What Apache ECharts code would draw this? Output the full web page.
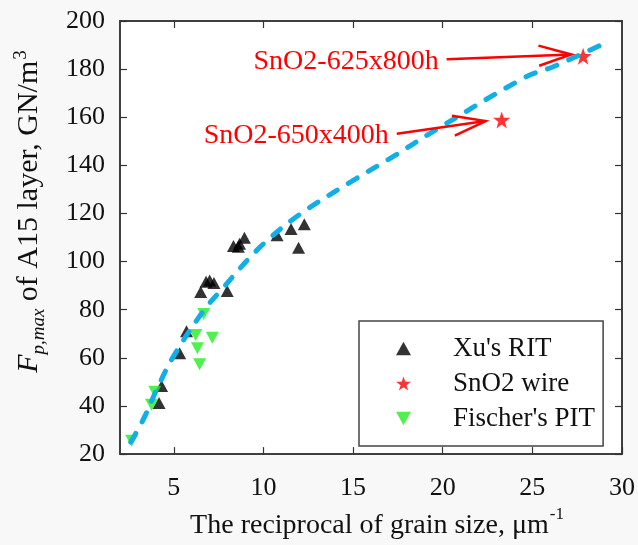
<!DOCTYPE html>
<html>
<head>
<meta charset="utf-8">
<script src="https://cdn.jsdelivr.net/npm/echarts@6/dist/echarts.min.js"></script>
<style>
html,body{margin:0;padding:0;background:#f8f8f8;}
#chart{width:638px;height:545px;}
</style>
</head>
<body>
<div id="chart"></div>
<script>
// ---- data ----
const xuRIT = [[4.18,41.2],[4.32,48.3],[5.33,61.9],[5.71,71.1],[6.50,87.4],[6.80,91.6],[7.00,92.2],[7.24,91.1],[7.98,87.8],[8.33,106.5],[8.60,106.2],[8.67,107.4],[8.94,109.9],[10.76,111.0],[11.54,113.6],[11.96,105.8],[12.28,115.5]];
const sno2Wire = [[23.29,158.9],[27.83,185.4]];
const fischerPIT = [[2.65,25.6],[3.76,40.5],[3.94,45.9],[6.22,69.5],[6.32,64.0],[6.44,57.3],[6.67,78.2],[7.15,68.4]];
const fitCurve = [[2.6,25.0],[3.3,34.4],[4.04,46.7],[4.96,60.3],[6.63,79.3],[7.56,87.5],[9.78,105.8],[12.0,119.5],[15.15,134.4],[17.0,142.6],[19.78,155.5],[24.6,176.6],[26.26,181.3],[29.1,191.0]];
// annotations: label, tail x, tail y, head x, head y
const annoLabels = ['SnO2-625x800h','SnO2-650x400h'];
const annoArrows = [[20.22,184.1,27.17,186.1],[17.44,153.1,22.39,158.4]];
const xTicks = [5,10,15,20,25,30];
const yTicks = [20,40,60,80,100,120,140,160,180,200];

const FONT = "'Liberation Serif','Times New Roman',serif";
const chart = echarts.init(document.getElementById('chart'));

const baseX = {type:'value', min:2, max:30,
  axisLine:{show:true,onZero:false,lineStyle:{color:'#333',width:1.5}},
  splitLine:{show:false}};
const baseY = {type:'value', min:20, max:200, interval:20,
  axisLine:{show:true,onZero:false,lineStyle:{color:'#333',width:1.5}},
  splitLine:{show:false}};

const option = {
  backgroundColor:'#f8f8f8',
  animation:false,
  grid:{left:120,right:14,top:21,bottom:83,show:true,backgroundColor:'#ffffff',borderColor:'#333',borderWidth:1.5},
  xAxis:[
    Object.assign({}, baseX, {position:'bottom',
      axisTick:{show:true,inside:true,length:7,lineStyle:{color:'#333',width:1.2},customValues:xTicks},
      axisLabel:{show:true,margin:21,fontFamily:FONT,fontSize:26,color:'#111',customValues:xTicks},
      name:'{n|The reciprocal of grain size, μm}{sup|-1}', nameLocation:'middle', nameGap:50,
      nameTextStyle:{fontFamily:FONT,color:'#111',padding:[0,0,0,12],rich:{
        n:{fontFamily:FONT,fontSize:28,color:'#111',lineHeight:34,verticalAlign:'bottom'},
        sup:{fontFamily:FONT,fontSize:17,color:'#111',lineHeight:34,verticalAlign:'top',padding:[0,0,0,1]}}}
    }),
    Object.assign({}, baseX, {position:'top',
      axisTick:{show:true,inside:true,length:7,lineStyle:{color:'#333',width:1.2},customValues:xTicks.slice(0,5)},
      axisLabel:{show:false}})
  ],
  yAxis:[
    Object.assign({}, baseY, {position:'left',
      axisTick:{show:true,inside:true,length:7,lineStyle:{color:'#333',width:1.2}},
      axisLabel:{show:true,margin:15,fontFamily:FONT,fontSize:26,color:'#111'},
      name:'{i|F}{sub|p,max}{n| of A15 layer, GN/m}{sup|3}', nameLocation:'middle', nameGap:72, nameRotate:90,
      nameTextStyle:{fontFamily:FONT,color:'#111',padding:[0,0,0,52],rich:{
        i:{fontFamily:FONT,fontStyle:'italic',fontSize:30,color:'#111',lineHeight:38,verticalAlign:'middle'},
        sub:{fontFamily:FONT,fontStyle:'italic',fontSize:19,color:'#111',lineHeight:38,verticalAlign:'bottom'},
        n:{fontFamily:FONT,fontSize:30,color:'#111',lineHeight:38,verticalAlign:'middle'},
        sup:{fontFamily:FONT,fontSize:19,color:'#111',lineHeight:38,verticalAlign:'top',padding:[2,0,0,1]}}}
    }),
    Object.assign({}, baseY, {position:'right',
      axisTick:{show:true,inside:true,length:7,lineStyle:{color:'#333',width:1.2}},
      axisLabel:{show:false}})
  ],
  legend:{
    orient:'vertical', left:359, top:321,
    padding:[14,8,14,37], itemGap:8, itemWidth:15, itemHeight:15,
    borderColor:'#444', borderWidth:1.5, backgroundColor:'#ffffff',
    textStyle:{fontFamily:FONT,fontSize:27,color:'#111',lineHeight:27,padding:[0,0,0,37]},
    data:["Xu's RIT",'SnO2 wire',"Fischer's PIT"]
  },
  series:[
    {name:"Xu's RIT",type:'scatter',data:xuRIT,symbol:'path://M5,0 L10,9 L0,9 Z',symbolSize:[13,12],
      itemStyle:{color:'#000000'},z:3},
    {name:"Fischer's PIT",type:'scatter',data:fischerPIT,symbol:'path://M0,0 L10,0 L5,9 Z',symbolSize:[13,12],
      itemStyle:{color:'#22ee22'},z:3},
    {name:'SnO2 wire',type:'scatter',data:sno2Wire,symbol:'path://M50,0 L61.8,35.1 L98.9,35.1 L68.9,57.2 L80.3,92.5 L50,70.8 L19.7,92.5 L31.1,57.2 L1.1,35.1 L38.2,35.1 Z',symbolSize:17,
      itemStyle:{color:'#ff0000'},z:3},
    {name:'fit',type:'line',data:fitCurve,smooth:0.35,showSymbol:false,symbol:'none',
      lineStyle:{color:'#12aee8',width:5,type:[10,13],cap:'round'},z:5,silent:true},
    {name:'anno',type:'custom',silent:true,z:6,
      data:annoArrows,
      renderItem:function(params,api){
        const i = params.dataIndex;
        const p1 = api.coord([api.value(0),api.value(1)]);
        const p2 = api.coord([api.value(2),api.value(3)]);
        const ang = Math.atan2(p2[1]-p1[1],p2[0]-p1[0]);
        const L = 34, a = 0.30;
        const h1 = [p2[0]-L*Math.cos(ang-a), p2[1]-L*Math.sin(ang-a)];
        const h2 = [p2[0]-L*Math.cos(ang+a), p2[1]-L*Math.sin(ang+a)];
        const st = {stroke:'#ff0000',lineWidth:2.5,fill:null};
        return {type:'group',children:[
          {type:'line',shape:{x1:p1[0],y1:p1[1],x2:p2[0],y2:p2[1]},style:st},
          {type:'polyline',shape:{points:[h1,p2,h2]},style:st},
          {type:'text',x:p1[0]-8,y:p1[1]+2,style:{text:annoLabels[i],fill:'#ff0000',
            font:"28px 'Liberation Serif','Times New Roman',serif",align:'right',verticalAlign:'middle'}}
        ]};
      }}
  ]
};
chart.setOption(option);
</script>
</body>
</html>
